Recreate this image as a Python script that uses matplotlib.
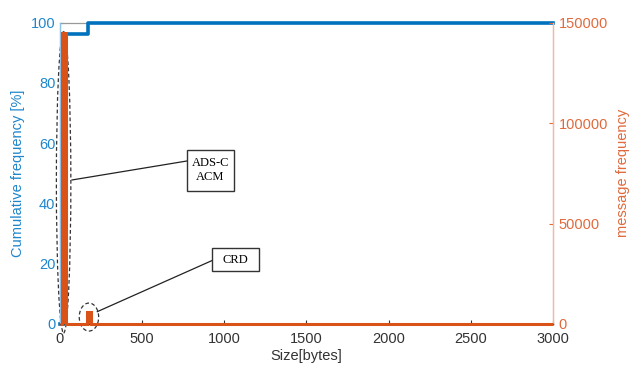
import matplotlib
matplotlib.use("Agg")
import matplotlib.pyplot as plt
from matplotlib.patches import Ellipse, Rectangle

# ---------------------------------------------------------------------------
# Data
# ---------------------------------------------------------------------------
# histogram of message sizes (bin edges in bytes, counts per bin)
bin_edges = [0, 14, 38, 168, 190, 3000]
bin_counts = [0, 145000, 0, 5800, 0]

# cumulative frequency (step curve)
cdf_size = [0, 27, 175, 3000]
cdf_pct = [0, 96.3, 100, 100]

x_ticks = [0, 500, 1000, 1500, 2000, 2500, 3000]
y_left_ticks = [0, 20, 40, 60, 80, 100]
y_right_ticks = [0, 50000, 100000, 150000]

BLUE = "#0072BD"
BLUE_TXT = "#1f86cc"
ORANGE = "#D95319"
ORANGE_TXT = "#e06a3c"

plt.rcParams["font.family"] = ["Liberation Sans", "DejaVu Sans"]

fig = plt.figure(figsize=(6.29, 3.67), dpi=100)
ax = fig.add_axes([0.0946, 0.1172, 0.7846, 0.821])
ax2 = ax.twinx()

# left axis: cumulative frequency
ax.plot(cdf_size, cdf_pct, drawstyle="steps-post", color=BLUE, lw=2.6,
        zorder=3, clip_on=False)
ax.set_xlim(0, 3000)
ax.set_ylim(0, 100)
ax.set_xticks(x_ticks)
ax.set_yticks(y_left_ticks)
ax.tick_params(axis="x", direction="in", length=3, labelsize=10.5, colors="#333333", pad=6)
ax.tick_params(axis="y", direction="in", length=3, labelsize=10.5, colors=BLUE_TXT, pad=3)
ax.set_xlabel("Size[bytes]", fontsize=10.5, color="#333333", labelpad=2)
ax.set_ylabel("Cumulative frequency [%]", fontsize=10.5, color=BLUE_TXT, labelpad=4)

# right axis: message frequency histogram
ax2.stairs(bin_counts, bin_edges, fill=True, color=ORANGE, zorder=4)
ax2.stairs(bin_counts, bin_edges, color=ORANGE, lw=2.2, zorder=4, clip_on=False)
ax2.set_ylim(0, 150000)
ax2.set_yticks(y_right_ticks)
ax2.tick_params(axis="y", direction="in", length=3, labelsize=10.5, colors=ORANGE_TXT, pad=4)
ax2.set_ylabel("message frequency", fontsize=10.5, color=ORANGE_TXT, labelpad=6)

for a in (ax, ax2):
    a.spines["top"].set_color("#999999")
    a.spines["bottom"].set_color("#444444")
    a.spines["left"].set_color("#8fc3ea")
    a.spines["right"].set_color("#f2b9a2")
    for s in a.spines.values():
        s.set_linewidth(0.9)
ax2.spines["top"].set_visible(False)

# annotations
ax.add_patch(Ellipse((25, 47), 88, 100, fill=False, ls=(0, (3, 2)), lw=0.9,
                     color="#333333", clip_on=False, zorder=5))
ax.add_patch(Ellipse((179, 2.3), 118, 9.3, fill=False, ls=(0, (3, 2)), lw=0.9,
                     color="#333333", clip_on=False, zorder=5))
ax.plot([76, 775], [47.8, 54.1], color="#222222", lw=0.9, zorder=5)
ax.plot([230, 925], [4.1, 21.0], color="#222222", lw=0.9, zorder=5)
ax.add_patch(Rectangle((775, 44.1), 286, 13.6, fc="white", ec="#333333", lw=1.0, zorder=6))
ax.add_patch(Rectangle((925, 17.6), 290, 7.6, fc="white", ec="#333333", lw=1.0, zorder=6))
ax.text(918, 51.0, "ADS-C\nACM", ha="center", va="center", fontsize=9,
        family="Liberation Serif", linespacing=1.25, zorder=7)
ax.text(1070, 21.4, "CRD", ha="center", va="center", fontsize=9,
        family="Liberation Serif", zorder=7)

fig.savefig("out.png", dpi=100)
